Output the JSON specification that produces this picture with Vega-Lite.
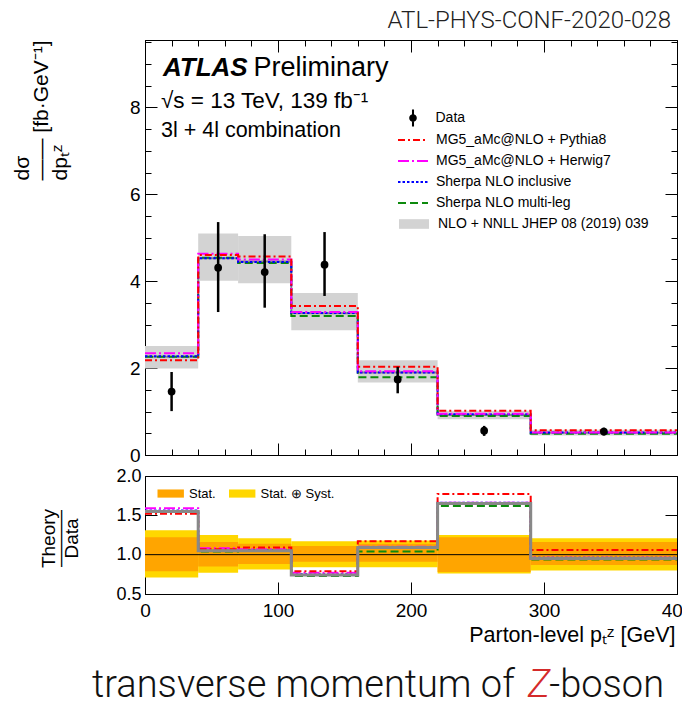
{
  "$schema": "https://vega.github.io/schema/vega-lite/v6.json",
  "padding": {"left": 10, "top": 8, "right": 0, "bottom": 0},
  "background": "white",
  "spacing": 21,
  "bounds": "flush",
  "config": {
    "view": {"stroke": "black", "strokeWidth": 1},
    "font": "Liberation Sans",
    "axis": {"domainColor": "black", "tickColor": "black", "labelColor": "black", "titleColor": "black", "labelFont": "Liberation Sans", "titleFont": "Liberation Sans", "grid": false, "labelFlush": false, "labelOverlap": false, "labelBound": false, "zindex": 1, "tickWidth": 1, "domainWidth": 1, "titleFontWeight": "normal"},
    "legend": {"labelFont": "Liberation Sans", "labelColor": "black", "padding": 0, "labelLimit": 400}
  },
  "datasets": {
    "top": [
      {"x": 0, "MG5_aMc@NLO + Pythia8": 2.18, "MG5_aMc@NLO + Herwig7": 2.34, "Sherpa NLO inclusive": 2.27, "Sherpa NLO multi-leg": 2.26, "NLO": 2.26},
      {"x": 40, "MG5_aMc@NLO + Pythia8": 4.60, "MG5_aMc@NLO + Herwig7": 4.63, "Sherpa NLO inclusive": 4.53, "Sherpa NLO multi-leg": 4.54, "NLO": 4.53},
      {"x": 70, "MG5_aMc@NLO + Pythia8": 4.57, "MG5_aMc@NLO + Herwig7": 4.50, "Sherpa NLO inclusive": 4.44, "Sherpa NLO multi-leg": 4.42, "NLO": 4.45},
      {"x": 110, "MG5_aMc@NLO + Pythia8": 3.43, "MG5_aMc@NLO + Herwig7": 3.29, "Sherpa NLO inclusive": 3.27, "Sherpa NLO multi-leg": 3.20, "NLO": 3.26},
      {"x": 160, "MG5_aMc@NLO + Pythia8": 2.03, "MG5_aMc@NLO + Herwig7": 1.93, "Sherpa NLO inclusive": 1.90, "Sherpa NLO multi-leg": 1.79, "NLO": 1.90},
      {"x": 220, "MG5_aMc@NLO + Pythia8": 1.02, "MG5_aMc@NLO + Herwig7": 0.95, "Sherpa NLO inclusive": 0.94, "Sherpa NLO multi-leg": 0.90, "NLO": 0.92},
      {"x": 290, "MG5_aMc@NLO + Pythia8": 0.57, "MG5_aMc@NLO + Herwig7": 0.52, "Sherpa NLO inclusive": 0.52, "Sherpa NLO multi-leg": 0.49, "NLO": 0.51},
      {"x": 400, "MG5_aMc@NLO + Pythia8": 0.57, "MG5_aMc@NLO + Herwig7": 0.52, "Sherpa NLO inclusive": 0.52, "Sherpa NLO multi-leg": 0.49, "NLO": 0.51}
    ],
    "ratio": [
      {"x": 0, "MG5_aMc@NLO + Pythia8": 1.52, "MG5_aMc@NLO + Herwig7": 1.59, "Sherpa NLO inclusive": 1.56, "Sherpa NLO multi-leg": 1.55, "NLO": 1.55},
      {"x": 40, "MG5_aMc@NLO + Pythia8": 1.07, "MG5_aMc@NLO + Herwig7": 1.08, "Sherpa NLO inclusive": 1.05, "Sherpa NLO multi-leg": 1.04, "NLO": 1.05},
      {"x": 70, "MG5_aMc@NLO + Pythia8": 1.09, "MG5_aMc@NLO + Herwig7": 1.07, "Sherpa NLO inclusive": 1.06, "Sherpa NLO multi-leg": 1.05, "NLO": 1.05},
      {"x": 110, "MG5_aMc@NLO + Pythia8": 0.79, "MG5_aMc@NLO + Herwig7": 0.77, "Sherpa NLO inclusive": 0.75, "Sherpa NLO multi-leg": 0.73, "NLO": 0.74},
      {"x": 160, "MG5_aMc@NLO + Pythia8": 1.17, "MG5_aMc@NLO + Herwig7": 1.10, "Sherpa NLO inclusive": 1.09, "Sherpa NLO multi-leg": 1.04, "NLO": 1.09},
      {"x": 220, "MG5_aMc@NLO + Pythia8": 1.77, "MG5_aMc@NLO + Herwig7": 1.66, "Sherpa NLO inclusive": 1.66, "Sherpa NLO multi-leg": 1.62, "NLO": 1.65},
      {"x": 290, "MG5_aMc@NLO + Pythia8": 1.06, "MG5_aMc@NLO + Herwig7": 0.96, "Sherpa NLO inclusive": 0.96, "Sherpa NLO multi-leg": 0.94, "NLO": 0.95},
      {"x": 400, "MG5_aMc@NLO + Pythia8": 1.06, "MG5_aMc@NLO + Herwig7": 0.96, "Sherpa NLO inclusive": 0.96, "Sherpa NLO multi-leg": 0.94, "NLO": 0.95}
    ],
    "nloband": [
      {"lo": 0, "hi": 40, "blo": 1.99, "bhi": 2.51, "s": "NLO + NNLL JHEP 08 (2019) 039"},
      {"lo": 40, "hi": 70, "blo": 4.01, "bhi": 5.10, "s": "NLO + NNLL JHEP 08 (2019) 039"},
      {"lo": 70, "hi": 110, "blo": 3.95, "bhi": 5.04, "s": "NLO + NNLL JHEP 08 (2019) 039"},
      {"lo": 110, "hi": 160, "blo": 2.87, "bhi": 3.73, "s": "NLO + NNLL JHEP 08 (2019) 039"},
      {"lo": 160, "hi": 220, "blo": 1.67, "bhi": 2.18, "s": "NLO + NNLL JHEP 08 (2019) 039"},
      {"lo": 220, "hi": 290, "blo": 0.82, "bhi": 1.02, "s": "NLO + NNLL JHEP 08 (2019) 039"},
      {"lo": 290, "hi": 400, "blo": 0.45, "bhi": 0.58, "s": "NLO + NNLL JHEP 08 (2019) 039"}
    ],
    "meas": [
      {"xc": 20, "y": 1.46, "lo": 1.01, "hi": 1.91, "series": "Data"},
      {"xc": 55, "y": 4.31, "lo": 3.29, "hi": 5.36, "series": "Data"},
      {"xc": 90, "y": 4.21, "lo": 3.39, "hi": 5.08, "series": "Data"},
      {"xc": 135, "y": 4.38, "lo": 3.66, "hi": 5.13, "series": "Data"},
      {"xc": 190, "y": 1.74, "lo": 1.42, "hi": 2.03, "series": "Data"},
      {"xc": 255, "y": 0.56, "lo": 0.44, "hi": 0.67, "series": "Data"},
      {"xc": 345, "y": 0.54, "lo": 0.45, "hi": 0.63, "series": "Data"}
    ],
    "bands": [
      {"lo": 0, "hi": 40, "a": 0.71, "b": 1.31, "band": "Stat. ⊕ Syst."},
      {"lo": 40, "hi": 70, "a": 0.77, "b": 1.25, "band": "Stat. ⊕ Syst."},
      {"lo": 70, "hi": 110, "a": 0.81, "b": 1.21, "band": "Stat. ⊕ Syst."},
      {"lo": 110, "hi": 160, "a": 0.84, "b": 1.17, "band": "Stat. ⊕ Syst."},
      {"lo": 160, "hi": 220, "a": 0.84, "b": 1.18, "band": "Stat. ⊕ Syst."},
      {"lo": 220, "hi": 290, "a": 0.76, "b": 1.25, "band": "Stat. ⊕ Syst."},
      {"lo": 290, "hi": 400, "a": 0.80, "b": 1.21, "band": "Stat. ⊕ Syst."},
      {"lo": 0, "hi": 40, "a": 0.79, "b": 1.22, "band": "Stat."},
      {"lo": 40, "hi": 70, "a": 0.85, "b": 1.16, "band": "Stat."},
      {"lo": 70, "hi": 110, "a": 0.88, "b": 1.14, "band": "Stat."},
      {"lo": 110, "hi": 160, "a": 0.91, "b": 1.11, "band": "Stat."},
      {"lo": 160, "hi": 220, "a": 0.91, "b": 1.14, "band": "Stat."},
      {"lo": 220, "hi": 290, "a": 0.78, "b": 1.22, "band": "Stat."},
      {"lo": 290, "hi": 400, "a": 0.87, "b": 1.16, "band": "Stat."}
    ]
  },
  "resolve": {"scale": {"color": "independent", "strokeDash": "independent", "fill": "independent", "x": "independent", "y": "independent"}},
  "vconcat": [
    {
      "width": 532,
      "height": 415,
      "title": {"text": "ATL-PHYS-CONF-2020-028", "anchor": "end", "font": "Roboto", "fontWeight": 300, "fontSize": 24, "color": "#222222", "baseline": "alphabetic", "offset": -19, "dx": -10},
      "resolve": {"scale": {"fill": "independent"}, "axis": {"x": "independent", "y": "independent"}},
      "layer": [
        {
          "data": {"name": "nloband"},
          "mark": {"type": "rect"},
          "encoding": {
            "x": {"field": "lo", "type": "quantitative", "scale": {"domain": [0, 400], "nice": false},
              "axis": {"orient": "bottom", "values": [0,20,40,60,80,100,120,140,160,180,200,220,240,260,280,300,320,340,360,380,400], "labels": false, "title": null,
                "tickSize": {"condition": {"test": "datum.value % 100 === 0", "value": -12}, "value": -6}}},
            "x2": {"field": "hi"},
            "y": {"field": "blo", "type": "quantitative", "scale": {"domain": [0, 9.55], "nice": false, "zero": false},
              "axis": {"orient": "left", "values": [0,0.5,1,1.5,2,2.5,3,3.5,4,4.5,5,5.5,6,6.5,7,7.5,8,8.5,9,9.5], "format": ".0f",
                "labelExpr": "datum.value % 2 === 0 ? datum.label : ''", "labelFontSize": 19, "labelPadding": 17,
                "tickSize": {"condition": {"test": "datum.value % 2 === 0", "value": -12}, "value": -6},
                "title": ["\u2002\u2002dσ", "—— [fb·GeV⁻¹]", "dpₜᶻ"], "titleFontSize": 21, "titleLineHeight": 19, "titleAngle": 270,
                "titleAlign": "left", "titleBaseline": "alphabetic", "titleX": -117, "titleY": 140}},
            "y2": {"field": "bhi"},
            "fill": {"field": "s", "type": "nominal", "scale": {"range": ["#d3d3d3"]},
              "legend": {"orient": "none", "legendX": 262, "legendY": 177, "title": null, "symbolType": "M-2.5,-0.8H2.5V0.8H-2.5Z", "symbolSize": 144, "symbolStrokeWidth": 0, "labelFontSize": 14, "labelOffset": 17}}
          }
        },
        {
          "data": {"name": "top"},
          "mark": {"type": "line", "interpolate": "step-after", "color": "#888888", "strokeWidth": 2},
          "encoding": {
            "x": {"field": "x", "type": "quantitative",
              "axis": {"orient": "top", "values": [0,20,40,60,80,100,120,140,160,180,200,220,240,260,280,300,320,340,360,380,400], "labels": false, "title": null,
                "tickSize": {"condition": {"test": "datum.value % 100 === 0", "value": -12}, "value": -6}}},
            "y": {"field": "NLO", "type": "quantitative",
              "axis": {"orient": "right", "values": [0,0.5,1,1.5,2,2.5,3,3.5,4,4.5,5,5.5,6,6.5,7,7.5,8,8.5,9,9.5], "labels": false, "title": null,
                "tickSize": {"condition": {"test": "datum.value % 2 === 0", "value": -12}, "value": -6}}}
          }
        },
        {
          "data": {"name": "top"},
          "transform": [{"fold": ["Sherpa NLO multi-leg", "Sherpa NLO inclusive", "MG5_aMc@NLO + Herwig7", "MG5_aMc@NLO + Pythia8"], "as": ["model", "v"]}],
          "mark": {"type": "line", "interpolate": "step-after", "strokeWidth": 2},
          "encoding": {
            "x": {"field": "x", "type": "quantitative", "axis": null},
            "y": {"field": "v", "type": "quantitative", "axis": null},
            "color": {"field": "model", "type": "nominal",
              "scale": {"domain": ["MG5_aMc@NLO + Pythia8", "MG5_aMc@NLO + Herwig7", "Sherpa NLO inclusive", "Sherpa NLO multi-leg"], "range": ["#ff0000", "#ff00ff", "#0000ff", "#0d8a0d"]},
              "legend": {"orient": "none", "legendX": 261, "legendY": 93, "title": null, "symbolType": "M-2.5,0H2.5", "symbolSize": 144, "symbolStrokeWidth": 2, "labelFontSize": 14, "labelOffset": 16, "rowPadding": 7}},
            "strokeDash": {"field": "model", "type": "nominal",
              "scale": {"domain": ["MG5_aMc@NLO + Pythia8", "MG5_aMc@NLO + Herwig7", "Sherpa NLO inclusive", "Sherpa NLO multi-leg"], "range": [[7, 3, 2, 3], [11, 3, 2, 3], [2.5, 2], [8, 4]]},
              "legend": {"orient": "none", "legendX": 261, "legendY": 93, "title": null, "symbolType": "M-2.5,0H2.5", "symbolSize": 144, "symbolStrokeWidth": 2, "labelFontSize": 14, "labelOffset": 16, "rowPadding": 7}}
          }
        },
        {
          "data": {"name": "meas"},
          "mark": {"type": "rule", "strokeWidth": 2.5, "color": "black"},
          "encoding": {
            "x": {"field": "xc", "type": "quantitative", "axis": null},
            "y": {"field": "lo", "type": "quantitative", "axis": null},
            "y2": {"field": "hi"}
          }
        },
        {
          "data": {"name": "meas"},
          "mark": {"type": "point", "filled": true, "size": 60, "opacity": 1, "shape": "circle"},
          "encoding": {
            "x": {"field": "xc", "type": "quantitative", "axis": null},
            "y": {"field": "y", "type": "quantitative", "axis": null},
            "fill": {"field": "series", "type": "nominal", "scale": {"range": ["black"]},
              "legend": {"orient": "none", "legendX": 259.5, "legendY": 69.5, "title": null, "symbolType": "M-0.12,-1H0.12V1H-0.12Z M0.45,0A0.45,0.45 0 1,1 -0.45,0A0.45,0.45 0 1,1 0.45,0Z", "symbolSize": 289, "symbolStrokeWidth": 0, "labelFontSize": 14, "labelOffset": 14}}
          }
        },
        {
          "data": {"values": [{"t": "ATLAS"}]},
          "mark": {"type": "text", "font": "Liberation Sans", "fontSize": 26, "fontWeight": "bold", "fontStyle": "italic", "align": "left", "baseline": "alphabetic", "color": "black"},
          "encoding": {"text": {"field": "t"}, "x": {"datum": 13.5, "type": "quantitative", "axis": null}, "y": {"datum": 8.72, "type": "quantitative", "axis": null}}
        },
        {
          "data": {"values": [{"t": "Preliminary"}]},
          "mark": {"type": "text", "font": "Liberation Sans", "fontSize": 27, "align": "left", "baseline": "alphabetic", "color": "black"},
          "encoding": {"text": {"field": "t"}, "x": {"datum": 81.5, "type": "quantitative", "axis": null}, "y": {"datum": 8.72, "type": "quantitative", "axis": null}}
        },
        {
          "data": {"values": [{"t": "√s = 13 TeV, 139 fb⁻¹"}]},
          "mark": {"type": "text", "font": "Liberation Sans", "fontSize": 22.5, "align": "left", "baseline": "alphabetic", "color": "black"},
          "encoding": {"text": {"field": "t"}, "x": {"datum": 12, "type": "quantitative", "axis": null}, "y": {"datum": 7.99, "type": "quantitative", "axis": null}}
        },
        {
          "data": {"values": [{"t": "3l + 4l combination"}]},
          "mark": {"type": "text", "font": "Liberation Sans", "fontSize": 21.5, "align": "left", "baseline": "alphabetic", "color": "black"},
          "encoding": {"text": {"field": "t"}, "x": {"datum": 12, "type": "quantitative", "axis": null}, "y": {"datum": 7.32, "type": "quantitative", "axis": null}}
        }
      ]
    },
    {
      "width": 532,
      "height": 118,
      "resolve": {"axis": {"x": "independent", "y": "independent"}},
      "layer": [
        {
          "data": {"name": "bands"},
          "mark": {"type": "rect"},
          "encoding": {
            "x": {"field": "lo", "type": "quantitative", "scale": {"domain": [0, 400], "nice": false},
              "axis": {"orient": "bottom", "values": [0, 100, 200, 300, 400], "labelFontSize": 19, "labelPadding": 19.5,
                "tickSize": {"condition": {"test": "datum.value % 100 === 0", "value": -12}, "value": -12},
                "title": "Parton-level pₜᶻ [GeV]", "titleFontSize": 21.5, "titleAlign": "right", "titleBaseline": "alphabetic", "titleX": 530, "titleY": 47}},
            "x2": {"field": "hi"},
            "y": {"field": "a", "type": "quantitative", "scale": {"domain": [0.5, 2], "nice": false, "zero": false},
              "axis": {"orient": "left", "values": [0.5, 1, 1.5, 2], "format": ".1f", "labelFontSize": 18, "labelPadding": 16, "tickSize": -12,
                "title": ["Theory", "———", "Data"], "titleFontSize": 19, "titleLineHeight": 11.8, "titleAngle": 270, "titleAlign": "center", "titleBaseline": "alphabetic", "titleX": -91, "titleY": 62}},
            "y2": {"field": "b"},
            "fill": {"field": "band", "type": "nominal", "scale": {"domain": ["Stat.", "Stat. ⊕ Syst."], "range": ["#ffa500", "#ffd700"]},
              "legend": {"orient": "none", "direction": "horizontal", "legendX": 19.2, "legendY": 10.8, "title": null, "symbolType": "M-2.2,-0.68H2.2V0.68H-2.2Z", "symbolSize": 144, "symbolStrokeWidth": 0, "labelFontSize": 13, "labelOffset": 11.8, "columnPadding": 12.5}}
          }
        },
        {
          "data": {"values": [{}]},
          "mark": {"type": "rule", "color": "black", "strokeWidth": 1},
          "encoding": {"y": {"datum": 1, "type": "quantitative", "axis": null}}
        },
        {
          "data": {"name": "ratio"},
          "transform": [{"fold": ["Sherpa NLO multi-leg", "Sherpa NLO inclusive", "MG5_aMc@NLO + Herwig7", "MG5_aMc@NLO + Pythia8"], "as": ["model", "v"]}],
          "mark": {"type": "line", "interpolate": "step-after", "strokeWidth": 2},
          "encoding": {
            "x": {"field": "x", "type": "quantitative", "axis": null},
            "y": {"field": "v", "type": "quantitative", "axis": null},
            "color": {"field": "model", "type": "nominal",
              "scale": {"domain": ["MG5_aMc@NLO + Pythia8", "MG5_aMc@NLO + Herwig7", "Sherpa NLO inclusive", "Sherpa NLO multi-leg"], "range": ["#ff0000", "#ff00ff", "#0000ff", "#0d8a0d"]}, "legend": null},
            "strokeDash": {"field": "model", "type": "nominal",
              "scale": {"domain": ["MG5_aMc@NLO + Pythia8", "MG5_aMc@NLO + Herwig7", "Sherpa NLO inclusive", "Sherpa NLO multi-leg"], "range": [[7, 3, 2, 3], [11, 3, 2, 3], [2.5, 2], [8, 4]]}, "legend": null}
          }
        },
        {
          "data": {"name": "ratio"},
          "mark": {"type": "line", "interpolate": "step-after", "color": "#888888", "strokeWidth": 3},
          "encoding": {
            "x": {"field": "x", "type": "quantitative", "axis": null},
            "y": {"field": "NLO", "type": "quantitative",
              "axis": {"orient": "right", "values": [0.5, 1, 1.5, 2], "labels": false, "title": null, "tickSize": -12}}
          }
        },
        {
          "data": {"values": [{"t": "transverse momentum of"}]},
          "mark": {"type": "text", "font": "Roboto", "fontWeight": 300, "fontSize": 38, "align": "right", "baseline": "alphabetic", "color": "#111111"},
          "encoding": {"text": {"field": "t"}, "x": {"datum": 278, "type": "quantitative", "axis": null}, "y": {"datum": -0.809, "type": "quantitative", "axis": null}}
        },
        {
          "data": {"values": [{"t": "Z"}]},
          "mark": {"type": "text", "font": "Roboto", "fontWeight": 300, "fontStyle": "italic", "fontSize": 38, "align": "left", "baseline": "alphabetic", "color": "#d42a2a"},
          "encoding": {"text": {"field": "t"}, "x": {"datum": 288, "type": "quantitative", "axis": null}, "y": {"datum": -0.809, "type": "quantitative", "axis": null}}
        },
        {
          "data": {"values": [{"t": "-boson"}]},
          "mark": {"type": "text", "font": "Roboto", "fontWeight": 300, "fontSize": 38, "align": "left", "baseline": "alphabetic", "color": "#111111"},
          "encoding": {"text": {"field": "t"}, "x": {"datum": 304, "type": "quantitative", "axis": null}, "y": {"datum": -0.809, "type": "quantitative", "axis": null}}
        }
      ]
    }
  ]
}
